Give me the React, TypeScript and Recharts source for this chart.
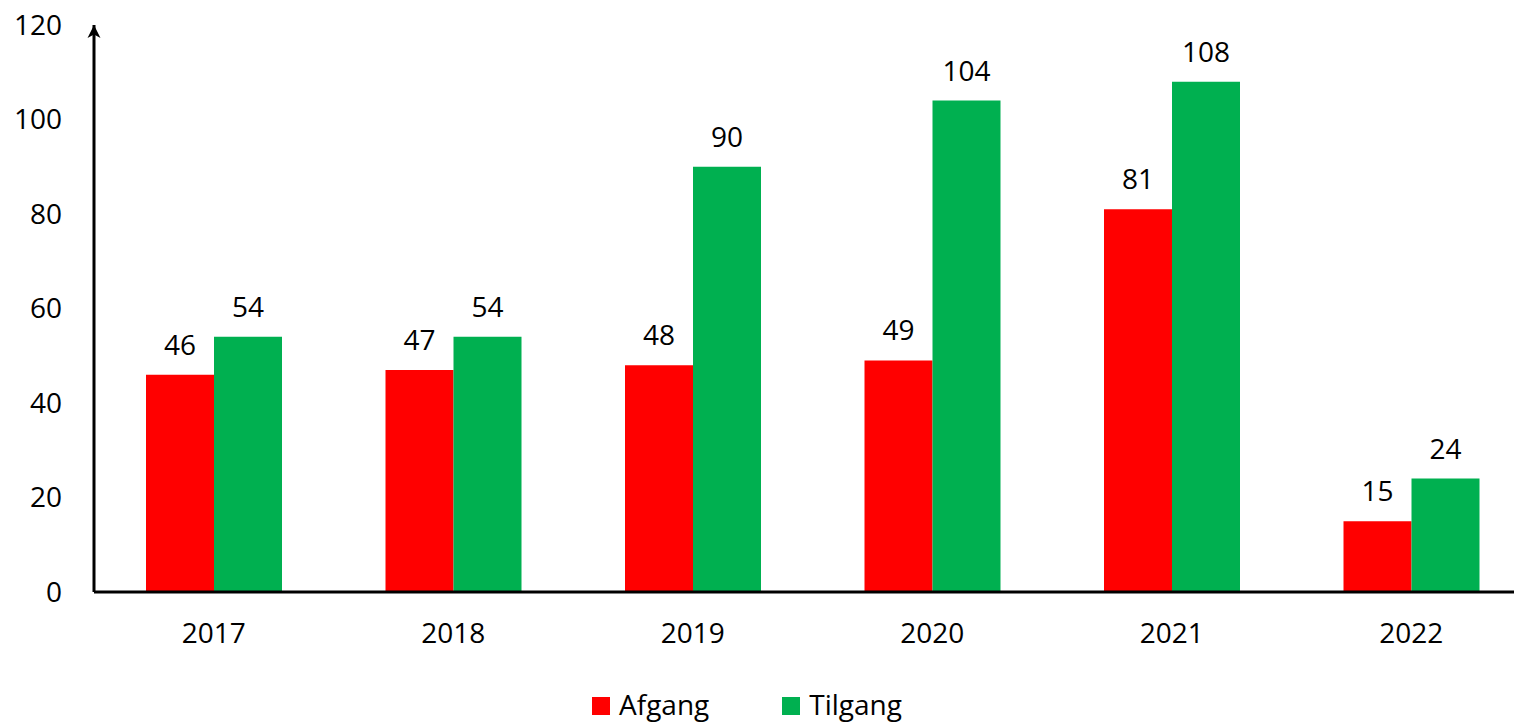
import React from 'react';
import { Bar, BarChart, LabelList, Legend, XAxis, YAxis } from 'recharts';

// Chart values
const years = ['2017', '2018', '2019', '2020', '2021', '2022'];
const afgang = [46, 47, 48, 49, 81, 15];
const tilgang = [54, 54, 90, 104, 108, 24];
const yTicks = [0, 20, 40, 60, 80, 100, 120];

const FONT = '"Open Sans", "Noto Sans", sans-serif';
const RED = '#FF0000';
const GREEN = '#00B050';

const chartData = years.map((year, i) => ({
  year,
  afgang: afgang[i],
  tilgang: tilgang[i],
}));

const legendItems = [
  { name: 'Afgang', color: RED },
  { name: 'Tilgang', color: GREEN },
];

const ChartLegend = () => (
  <div style={{ display: 'flex', alignItems: 'center', fontFamily: FONT, fontSize: 28, height: 30 }}>
    {legendItems.map((item) => (
      <div key={item.name} style={{ display: 'flex', alignItems: 'center', marginRight: 73 }}>
        <span style={{ width: 18, height: 18, background: item.color, marginRight: 9, marginTop: 3 }} />
        <span style={{ color: '#000', lineHeight: '30px' }}>{item.name}</span>
      </div>
    ))}
  </div>
);

const App: React.FC = () => {
  const tick = { fill: '#000', fontSize: 28, fontFamily: FONT };

  return (
    <div
      style={{
        position: 'absolute',
        left: 0,
        top: 0,
        width: 1514,
        height: 723,
        overflow: 'hidden',
        background: '#fff',
        fontFamily: FONT,
      }}
    >
      {/* arrow head for the y axis */}
      <svg width={0} height={0} style={{ position: 'absolute' }}>
        <defs>
          <marker
            id="axisArrow"
            markerUnits="userSpaceOnUse"
            markerWidth={16}
            markerHeight={16}
            refX={13}
            refY={7.5}
            orient="auto-start-reverse"
          >
            <path d="M0,1 L13,7.5 L0,14 L3.5,7.5 Z" fill="#000" />
          </marker>
        </defs>
      </svg>

      <BarChart
        width={1531}
        height={723}
        data={chartData}
        margin={{ top: 25, right: 0, bottom: 71, left: 0 }}
        barSize={68}
        barGap={0}
      >
        <YAxis
          width={94}
          domain={[0, 120]}
          ticks={yTicks}
          interval={0}
          tick={tick}
          tickLine={false}
          tickSize={0}
          tickMargin={32}
          axisLine={{ stroke: '#000', strokeWidth: 3, markerStart: 'url(#axisArrow)' }}
        />
        <XAxis
          dataKey="year"
          height={60}
          tick={tick}
          tickLine={false}
          tickSize={0}
          tickMargin={31}
          axisLine={{ stroke: '#000', strokeWidth: 3 }}
        />
        <Legend
          layout="horizontal"
          verticalAlign="middle"
          align="center"
          content={() => <ChartLegend />}
          wrapperStyle={{ top: 689, left: 592, width: 600, height: 30 }}
        />
        <Bar dataKey="afgang" name="Afgang" fill={RED} isAnimationActive={false}>
          <LabelList dataKey="afgang" position="top" offset={20} fill="#000" fontSize={28} fontFamily={FONT} />
        </Bar>
        <Bar dataKey="tilgang" name="Tilgang" fill={GREEN} isAnimationActive={false}>
          <LabelList dataKey="tilgang" position="top" offset={20} fill="#000" fontSize={28} fontFamily={FONT} />
        </Bar>
      </BarChart>
    </div>
  );
};

export default App;
